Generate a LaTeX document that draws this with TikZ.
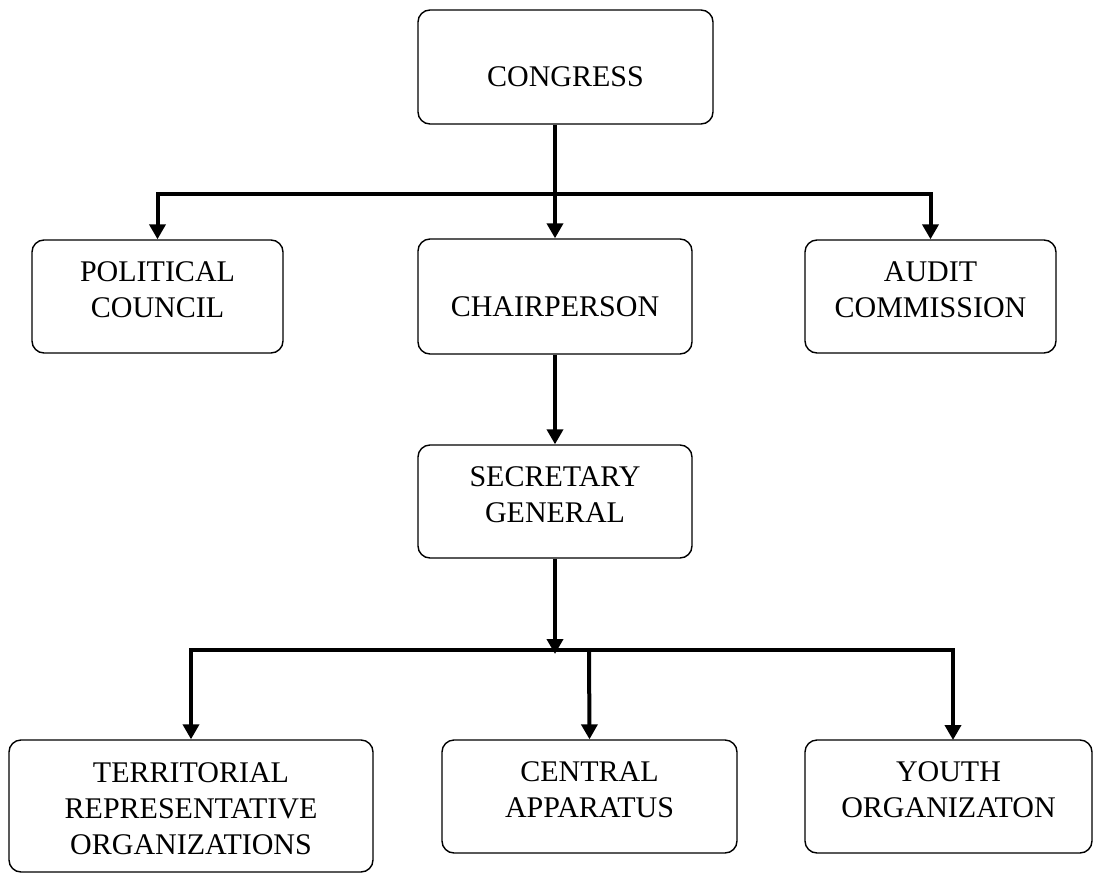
\documentclass[tikz,border=0pt]{standalone}
\usepackage{fontspec}
\setmainfont{Liberation Serif}
\usetikzlibrary{arrows.meta}
\tikzset{
  box/.style={draw=black, line width=1.4pt, rounded corners=12pt, inner sep=0pt, fill=white},
  lbl/.style={inner sep=0pt, align=center, font=\fontsize{30}{36}\selectfont},
  conn/.style={line width=4pt, draw=black},
  tip/.tip={Triangle[length=15pt,width=16pt]}
}
\begin{document}
\begin{tikzpicture}[x=1pt,y=-1pt]
\useasboundingbox (0,0) rectangle (1093,873);
% boxes
\node[box, minimum width=295pt, minimum height=114pt] (cong) at (565.5,67) {};
\node[box, minimum width=251pt, minimum height=113pt] (pc) at (157.5,296.5) {};
\node[box, minimum width=274pt, minimum height=115pt] (chair) at (555,296.5) {};
\node[box, minimum width=251pt, minimum height=113pt] (ac) at (930.5,296.5) {};
\node[box, minimum width=274pt, minimum height=113pt] (sg) at (555,501.5) {};
\node[box, minimum width=364pt, minimum height=132pt] (tro) at (191,806) {};
\node[box, minimum width=295pt, minimum height=113pt] (ca) at (589.5,796.5) {};
\node[box, minimum width=287pt, minimum height=113pt] (yo) at (948.5,796.5) {};
% texts
\node[lbl] (cong-t) at (565.5,77) {CONGRESS};
\node[lbl] (pc-t) at (157.5,290) {POLITICAL\\COUNCIL};
\node[lbl] (chair-t) at (555,307) {CHAIRPERSON};
\node[lbl] (ac-t) at (930.5,290) {AUDIT\\COMMISSION};
\node[lbl] (sg-t) at (555,494.5) {SECRETARY\\GENERAL};
\node[lbl] (tro-t) at (191,808.5) {TERRITORIAL\\REPRESENTATIVE\\ORGANIZATIONS};
\node[lbl] (ca-t) at (589.5,790) {CENTRAL\\APPARATUS};
\node[lbl] (yo-t) at (948.5,790) {YOUTH\\ORGANIZATON};
% connector coordinates
\coordinate (bus1) at (555,194);
\coordinate (bus2) at (589,650);
\coordinate (yoin) at (953,740);
% connectors
\draw[conn,-tip] (cong.south -| chair.north) -- (chair.north);
\draw[conn,tip-tip] (pc.north) |- (bus1) -| (ac.north);
\draw[conn,-tip] (chair.south) -- (sg.north);
\draw[conn,-tip] (sg.south) -- ([yshift=-4pt]sg.south |- bus2);
\draw[conn,tip-tip] (tro.north) |- (bus2) -| (yoin);
\draw[conn,-tip] (bus2) -- (ca.north);
\end{tikzpicture}
\end{document}
